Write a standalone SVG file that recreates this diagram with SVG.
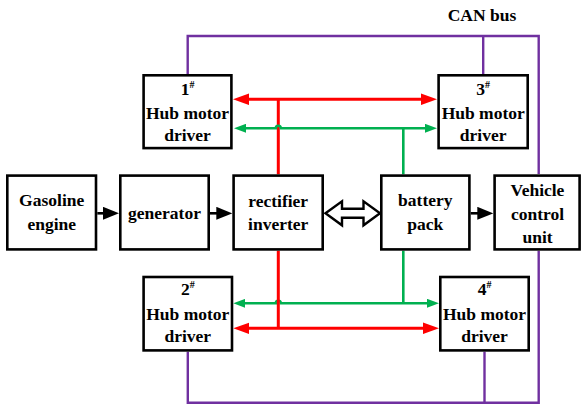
<svg xmlns="http://www.w3.org/2000/svg" width="582" height="405" viewBox="0 0 582 405">
<style>
.box{fill:#fff;stroke:#000;stroke-width:2.6}
.t{font-family:"Liberation Serif","Times New Roman",serif;font-weight:bold;font-size:17.5px;fill:#000;text-anchor:middle}
.sup{font-size:10px}
.can{fill:none;stroke:#7030A0;stroke-width:2.4}
.red{fill:none;stroke:#FF0000;stroke-width:3}
.grn{fill:none;stroke:#00B050;stroke-width:2.6}
.blk{fill:none;stroke:#000;stroke-width:2.6}
</style>
<defs>
<marker id="mr" markerUnits="userSpaceOnUse" markerWidth="16" markerHeight="12" refX="4" refY="5.75" orient="auto-start-reverse" viewBox="0 0 16 11.5"><path d="M0,0 L16,5.75 L0,11.5 z" fill="#FF0000"/></marker>
<marker id="mg" markerUnits="userSpaceOnUse" markerWidth="12" markerHeight="9" refX="3" refY="4.5" orient="auto-start-reverse" viewBox="0 0 12 9"><path d="M0,0 L12,4.5 L0,9 z" fill="#00B050"/></marker>
<marker id="mb" markerUnits="userSpaceOnUse" markerWidth="16" markerHeight="13" refX="4" refY="6.5" orient="auto" viewBox="0 0 16 13"><path d="M0,0 L16,6.5 L0,13 z" fill="#000"/></marker>
</defs>

<g id="connectors">
  <!-- CAN bus -->
  <path class="can" d="M187.7,74 V36 H538.7 V174"/>
  <path class="can" d="M483.2,36 V74"/>
  <path class="can" d="M187.8,351.7 V402.7 H538.7 V250.7"/>
  <path class="can" d="M484.5,351.7 V402.7"/>
  <!-- top red -->
  <path class="red" d="M245,99.3 H425" marker-start="url(#mr)" marker-end="url(#mr)"/>
  <path class="red" d="M278.3,99.3 V174.3"/>
  <!-- top green with hop -->
  <path class="grn" d="M243,128.3 H275.8 A2.5,2.5 0 0 1 280.8,128.3 H428" marker-start="url(#mg)" marker-end="url(#mg)"/>
  <path class="grn" d="M403.3,128.3 V174.3"/>
  <!-- bottom green with hop -->
  <path class="grn" d="M242.3,303.3 H275.8 A2.5,2.5 0 0 1 280.8,303.3 H430" marker-start="url(#mg)" marker-end="url(#mg)"/>
  <path class="grn" d="M403.3,250.7 V303.3"/>
  <!-- bottom red -->
  <path class="red" d="M245.3,328.3 H427" marker-start="url(#mr)" marker-end="url(#mr)"/>
  <path class="red" d="M278.3,250.7 V328.3"/>
  <!-- black arrows -->
  <path class="blk" d="M97.3,213.3 H107" marker-end="url(#mb)"/>
  <path class="blk" d="M210,213.3 H220.3" marker-end="url(#mb)"/>
  <path class="blk" d="M470.7,213.3 H481.3" marker-end="url(#mb)"/>
  <!-- hollow double arrow -->
  <path d="M325.5,213.3 L342,201.3 V208.8 H363.5 V201.3 L380,213.3 L363.5,225.3 V217.8 H342 V225.3 Z" fill="#fff" stroke="#000" stroke-width="2.4" stroke-linejoin="miter"/>
</g>

<text class="t" x="482" y="21">CAN bus</text>

<g id="hub1">
  <rect class="box" x="143.6" y="75.3" width="87.8" height="72.8"/>
  <text class="t" x="187.5" y="94.5">1<tspan class="sup" dy="-7">#</tspan></text>
  <text class="t" x="187.5" y="118.5">Hub motor</text>
  <text class="t" x="187.5" y="140.5">driver</text>
</g>
<g id="hub3">
  <rect class="box" x="438.6" y="75.3" width="89.1" height="72.8"/>
  <text class="t" x="483.2" y="94.5">3<tspan class="sup" dy="-7">#</tspan></text>
  <text class="t" x="483.2" y="118.5">Hub motor</text>
  <text class="t" x="483.2" y="140.5">driver</text>
</g>
<g id="hub2">
  <rect class="box" x="143.6" y="277" width="88.4" height="73.4"/>
  <text class="t" x="187.8" y="294.5">2<tspan class="sup" dy="-7">#</tspan></text>
  <text class="t" x="187.8" y="319.5">Hub motor</text>
  <text class="t" x="187.8" y="341.5">driver</text>
</g>
<g id="hub4">
  <rect class="box" x="440.3" y="277" width="88.4" height="73.4"/>
  <text class="t" x="484.5" y="294.5">4<tspan class="sup" dy="-7">#</tspan></text>
  <text class="t" x="484.5" y="319.5">Hub motor</text>
  <text class="t" x="484.5" y="341.5">driver</text>
</g>

<g id="engine">
  <rect class="box" x="7.3" y="175.6" width="88.7" height="73.8"/>
  <text class="t" x="51.7" y="206">Gasoline</text>
  <text class="t" x="51.7" y="229.5">engine</text>
</g>
<g id="generator">
  <rect class="box" x="120.3" y="175.6" width="88.4" height="73.8"/>
  <text class="t" x="164.5" y="218.5">generator</text>
</g>
<g id="rectifier">
  <rect class="box" x="233.6" y="175.6" width="89.1" height="73.8"/>
  <text class="t" x="278.2" y="206.5">rectifier</text>
  <text class="t" x="278.2" y="230">inverter</text>
</g>
<g id="battery">
  <rect class="box" x="381.3" y="175.6" width="88.1" height="73.8"/>
  <text class="t" x="425.3" y="206">battery</text>
  <text class="t" x="425.3" y="229.5">pack</text>
</g>
<g id="vcu">
  <rect class="box" x="494.6" y="175.6" width="85" height="73.8"/>
  <text class="t" x="537.5" y="196">Vehicle</text>
  <text class="t" x="537.5" y="219.5">control</text>
  <text class="t" x="537.5" y="242.5">unit</text>
</g>
</svg>
